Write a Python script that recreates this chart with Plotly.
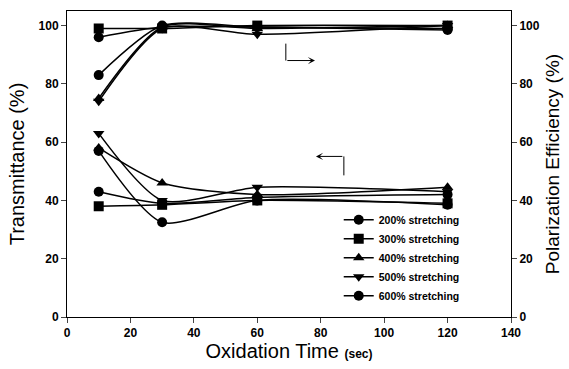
import plotly.graph_objects as go

time_sec = [10, 30, 60, 120]
series_names = ["200% stretching", "300% stretching", "400% stretching", "500% stretching", "600% stretching"]
symbols = ["circle", "square", "triangle-up", "triangle-down", "circle"]

trans_200 = [43, 39, 41, 42]
trans_300 = [38, 38.5, 40, 39]
trans_400 = [58, 46, 42, 44.5]
trans_500 = [63, 40, 44.5, 43]
trans_600 = [57, 32.5, 40, 38.5]

pe_200 = [96, 99.5, 99.5, 99]
pe_300 = [99, 99, 100, 100]
pe_400 = [75, 99.5, 99, 100]
pe_500 = [74, 99, 97, 100]
pe_600 = [83, 100, 99.5, 98.5]

trans = [trans_200, trans_300, trans_400, trans_500, trans_600]
pe = [pe_200, pe_300, pe_400, pe_500, pe_600]

x_ticks = [0, 20, 40, 60, 80, 100, 120, 140]
y_ticks = [0, 20, 40, 60, 80, 100]

line_style = dict(color="black", width=1.5, shape="spline", smoothing=0.7)

fig = go.Figure()
for name, sym, t in zip(series_names, symbols, trans):
    fig.add_trace(go.Scatter(x=time_sec, y=t, name=name, mode="lines+markers",
                             line=line_style,
                             marker=dict(symbol=sym, size=10, color="black"),
                             yaxis="y"))
for name, sym, p in zip(series_names, symbols, pe):
    fig.add_trace(go.Scatter(x=time_sec, y=p, name=name, mode="lines+markers",
                             line=line_style,
                             marker=dict(symbol=sym, size=10, color="black"),
                             yaxis="y2", showlegend=False))

# direction arrows
fig.add_shape(type="line", x0=69, x1=69, y0=93.8, y1=88, xref="x", yref="y",
              line=dict(color="black", width=1))
fig.add_annotation(x=78.2, y=88, ax=69, ay=88, xref="x", yref="y", axref="x", ayref="y",
                   showarrow=True, arrowhead=3, arrowsize=1.2, arrowwidth=1, arrowcolor="black", text="")
fig.add_shape(type="line", x0=87.3, x1=87.3, y0=55.1, y1=48.6, xref="x", yref="y",
              line=dict(color="black", width=1))
fig.add_annotation(x=78.5, y=55.1, ax=87.3, ay=55.1, xref="x", yref="y", axref="x", ayref="y",
                   showarrow=True, arrowhead=3, arrowsize=1.2, arrowwidth=1, arrowcolor="black", text="")

tickfont = dict(family="Liberation Sans, Arial", size=12, color="black", weight="bold")
fig.update_layout(
    width=569, height=369,
    margin=dict(l=67, r=56, t=10, b=52),
    paper_bgcolor="white", plot_bgcolor="white",
    font=dict(family="Liberation Sans, Arial", color="black"),
    showlegend=True,
    legend=dict(x=0.612, y=0.365, xanchor="left", yanchor="top", bgcolor="rgba(0,0,0,0)",
                font=dict(size=10.5, weight="bold"), tracegroupgap=0, itemwidth=30),
    xaxis=dict(range=[0, 140], tickvals=x_ticks, ticks="outside", ticklen=5,
               showline=True, linecolor="black", linewidth=1, mirror=True,
               showgrid=False, zeroline=False, tickfont=tickfont,
               title=dict(text="Oxidation Time <b><span style='font-size:12px'>(sec)</span></b>",
                          font=dict(size=20), standoff=4)),
    yaxis=dict(range=[0, 105], tickvals=y_ticks, ticks="outside", ticklen=5,
               showline=True, linecolor="black", linewidth=1,
               showgrid=False, zeroline=False, tickfont=tickfont,
               title=dict(text="Transmittance (%)", font=dict(size=20), standoff=8)),
    yaxis2=dict(range=[0, 105], tickvals=y_ticks, ticks="outside", ticklen=5,
                overlaying="y", side="right",
                showline=True, linecolor="black", linewidth=1,
                showgrid=False, zeroline=False, tickfont=tickfont,
                title=dict(text="Polarization Efficiency (%)", font=dict(size=19), standoff=6)),
)

fig.write_html("out.html")
